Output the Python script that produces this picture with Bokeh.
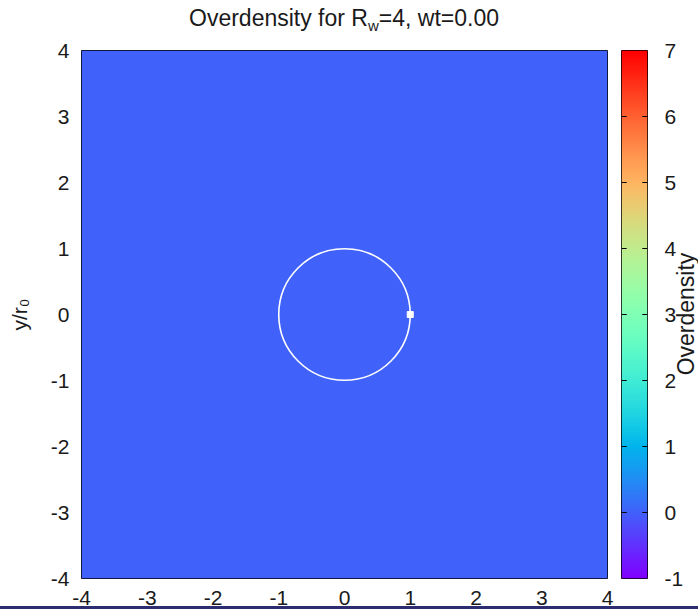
import numpy as np
from bokeh.plotting import figure
from bokeh.models import LinearColorMapper, FixedTicker, Div
from bokeh.layouts import row, column
from bokeh.embed import file_html
from bokeh.resources import INLINE

# ---- data -------------------------------------------------------------
grid_n = 64
overdensity = np.zeros((grid_n, grid_n))      # density contrast at wt = 0
orbit_radius = [1.0]                           # orbit of the perturber (units of r0)
orbit_cx = [0.0]
orbit_cy = [0.0]
perturber_x = [1.0]
perturber_y = [0.0]
xy_ticks = [-4, -3, -2, -1, 0, 1, 2, 3, 4]
cb_ticks = [-1, 0, 1, 2, 3, 4, 5, 6, 7]
cb_low, cb_high = -1.0, 7.0

FONT = "Liberation Sans"
INK = "#1a1a1a"

# ---- rainbow colour map (purple -> blue -> cyan -> green -> yellow -> red)
def rainbow(n=256):
    t = np.linspace(0, 1, n)
    r = np.clip(np.abs(2 * t - 0.5), 0, 1)
    g = np.clip(np.sin(np.pi * t), 0, 1)
    b = np.clip(np.cos(np.pi * t / 2), 0, 1)
    return ["#%02x%02x%02x" % (int(round(a * 255)), int(round(c * 255)), int(round(d * 255)))
            for a, c, d in zip(r, g, b)]

mapper = LinearColorMapper(palette=rainbow(), low=cb_low, high=cb_high)

def plain_labels(ticks):
    # ASCII hyphen for negative numbers
    return {t: str(t) for t in ticks}

# ---- title (HTML so that the subscript can be drawn) --------------------
TITLE_H = 40
title = Div(
    text=('<div style="position:absolute; left:0; top:7px; width:688px; text-align:center; '
          f'font-family:\'{FONT}\'; font-size:23px; line-height:23px; color:{INK}; white-space:nowrap;">'
          'Overdensity for R<span style="font-size:15px; position:relative; top:5px;">w</span>'
          '=4, wt=0.00</div>'),
    width=698, height=TITLE_H, margin=0,
)

# ---- main map ----------------------------------------------------------
TOP, BOTTOM = 50 - TITLE_H, 37
FRAME_H = 528
H = TOP + FRAME_H + BOTTOM
p = figure(width=614, height=H, x_range=(-4, 4), y_range=(-4, 4),
           output_backend="svg", toolbar_location=None,
           min_border_left=81, min_border_right=7,
           min_border_top=TOP, min_border_bottom=BOTTOM, margin=0)
p.background_fill_color = "white"
p.border_fill_color = "white"
p.outline_line_color = "black"
p.outline_line_width = 1
p.grid.visible = False

p.image(image=[overdensity], x=-4, y=-4, dw=8, dh=8, color_mapper=mapper)
p.circle(x=orbit_cx, y=orbit_cy, radius=orbit_radius, fill_color=None,
         line_color="white", line_width=1.6)
p.scatter(x=perturber_x, y=perturber_y, marker="square", size=6,
          fill_color="white", line_color="white")

for ax in (p.xaxis, p.yaxis):
    ax.ticker = FixedTicker(ticks=xy_ticks)
    ax.major_label_overrides = plain_labels(xy_ticks)
    ax.axis_line_color = None
    ax.major_tick_line_color = None
    ax.minor_tick_line_color = None
    ax.major_tick_out = 0
    ax.major_tick_in = 0
    ax.major_label_text_font = FONT
    ax.major_label_text_font_size = "21px"
    ax.major_label_text_color = INK
p.xaxis.major_label_standoff = 12
p.yaxis.major_label_standoff = 12

p.yaxis.axis_label = "y/r\u2080"
p.yaxis.axis_label_standoff = 17
p.yaxis.axis_label_text_font = FONT
p.yaxis.axis_label_text_font_size = "21px"
p.yaxis.axis_label_text_font_style = "normal"
p.yaxis.axis_label_text_color = INK

# ---- colour bar --------------------------------------------------------
CB_W = 84
cb = figure(width=CB_W, height=H, x_range=(0, 1), y_range=(cb_low, cb_high),
            output_backend="svg", toolbar_location=None,
            x_axis_location=None, y_axis_location="right",
            min_border_left=7, min_border_right=51,
            min_border_top=TOP, min_border_bottom=BOTTOM, margin=0)
cb.background_fill_color = "white"
cb.border_fill_color = "white"
cb.outline_line_color = "black"
cb.outline_line_width = 1
cb.grid.visible = False

levels = np.linspace(cb_low, cb_high, 256).reshape(-1, 1)
cb.image(image=[levels], x=0, y=cb_low, dw=1, dh=cb_high - cb_low, color_mapper=mapper)

inner = [t for t in cb_ticks if cb_low < t < cb_high]
cb.segment(x0=[0] * len(inner), x1=[0.2] * len(inner), y0=inner, y1=inner,
           line_color="black", line_width=1)
cb.segment(x0=[0.8] * len(inner), x1=[1] * len(inner), y0=inner, y1=inner,
           line_color="black", line_width=1)

ya = cb.yaxis
ya.ticker = FixedTicker(ticks=cb_ticks)
ya.major_label_overrides = plain_labels(cb_ticks)
ya.axis_line_color = None
ya.major_tick_line_color = None
ya.minor_tick_line_color = None
ya.major_tick_out = 0
ya.major_tick_in = 0
ya.major_label_standoff = 17
ya.major_label_text_font = FONT
ya.major_label_text_font_size = "21px"
ya.major_label_text_color = INK

# colour-bar title, laid over the right edge of the colour-bar panel
CBT_W = 30
cb_title = Div(
    text=('<div style="position:absolute; left:18px; top:274px; '
          'transform:translate(-50%,-50%) rotate(-90deg); white-space:nowrap; '
          f'font-family:\'{FONT}\'; font-size:23px; line-height:21px; color:{INK};">'
          'Overdensity</div>'),
    width=CBT_W, height=H, margin=(0, 0, 0, -CBT_W),
    styles={"position": "relative", "z-index": "10"},
)

# thin dark rule along the bottom edge
rule = Div(text="", width=698, height=3, margin=(609 - TITLE_H - H - 3, 0, 0, 0),
           styles={"background": "#2c2c70", "position": "relative", "z-index": "10"})

layout = column(title, row(p, cb, cb_title), rule, width=698, height=609,
                styles={"overflow": "hidden"})
open("out.html", "w").write(file_html(layout, INLINE))
